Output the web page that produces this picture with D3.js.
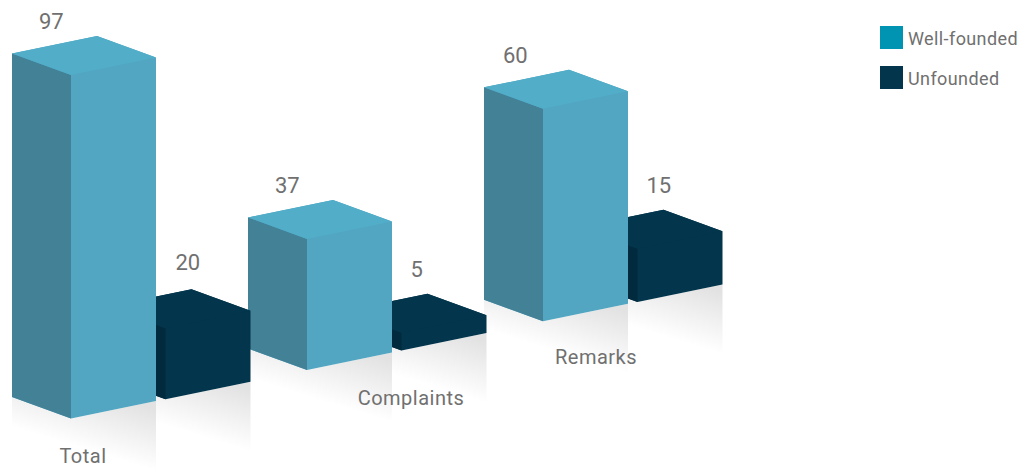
<!DOCTYPE html>
<html>
<head>
<meta charset="utf-8">
<script src="https://cdn.jsdelivr.net/npm/d3@7"></script>
<style>
  html, body { margin: 0; padding: 0; background: #fff; overflow: hidden; }
  text { font-family: Roboto, sans-serif; fill: #707070; }
</style>
</head>
<body>
<svg id="chart" width="1022" height="476"></svg>
<script>
const categories = ["Total", "Complaints", "Remarks"];
const seriesNames = ["Well-founded", "Unfounded"];
const wellFounded = [97, 37, 60];
const unfounded = [20, 5, 15];

const legendColors = ["#0093b2", "#03364d"];
const faceColors = [
  {top: "#51adc8", right: "#52a6c2", left: "#438197"},
  {top: "#03364d", right: "#03364d", left: "#012a3e"}
];

// box shape on screen, the two ground edges running out of the front corner
const leftEdge = {x: 59, y: 21.5};
const rightEdge = {x: 85, y: 17.5};
const shadowHeight = 70;

// labels sit by hand in the original, they don't follow the boxes exactly
const valueLabelNudge = [[0, 0], [0, 0], [-8, 0]];
const darkLabelNudge = [[1, -2], [0, 0], [0, 0]];
const catLabelPos = [[83, 463], [411, 405], [596, 364]];

const svg = d3.select("#chart");

const xGroup = d3.scaleBand().domain(categories).range([71, 779]);
const xSeries = d3.scaleBand().domain(seriesNames).range([0, 189]);
const groundY = d3.scaleLinear().domain([71, 637]).range([418.6, 302]);
const barH = d3.scaleLinear().domain([0, 97]).range([0, 343.6]);

const bars = [];
categories.forEach((c, i) => {
  bars.push({cat: c, i: i, s: 0, value: wellFounded[i]});
  bars.push({cat: c, i: i, s: 1, value: unfounded[i]});
});
// right to left, every box hides a bit of the one to its right
bars.reverse();

const defs = svg.append("defs");
const pts = arr => arr.map(p => p.join(",")).join(" ");

const shadowG = svg.append("g").attr("class", "shadows");
const barG = svg.append("g").attr("class", "bars");

function face(g, points, color) {
  g.append("polygon")
      .attr("points", pts(points))
      .attr("fill", color);
}

bars.forEach((d, n) => {
  const fx = xGroup(d.cat) + xSeries(seriesNames[d.s]);
  const fy = groundY(fx);
  const h = barH(d.value);
  const lx = fx - leftEdge.x, ly = fy - leftEdge.y;
  const rx = fx + rightEdge.x, ry = fy - rightEdge.y;
  const bx = lx + rightEdge.x, by = ly - rightEdge.y;
  const colors = faceColors[d.s];

  // floor reflection, darkest by the right edge and fading down to white
  const gid = "shadow" + n;
  const grad = defs.append("linearGradient").attr("id", gid)
      .attr("gradientUnits", "userSpaceOnUse")
      .attr("x1", rx - 26).attr("y1", ry)
      .attr("x2", rx - 46).attr("y2", ry + 65);
  grad.append("stop").attr("offset", 0).attr("stop-color", "#e2e2e2");
  grad.append("stop").attr("offset", 0.87).attr("stop-color", "#fff");
  shadowG.append("polygon")
      .attr("points", pts([[lx, ly], [fx, fy], [rx, ry], [rx, ry + shadowHeight],
                           [fx, fy + shadowHeight], [lx, ly + shadowHeight]]))
      .attr("fill", "url(#" + gid + ")");

  const g = barG.append("g");
  // silhouette first, so no light seam shows between the faces
  face(g, [[lx, ly], [fx, fy], [rx, ry], [rx, ry - h], [bx, by - h], [lx, ly - h]], colors.right);
  face(g, [[lx, ly], [fx, fy], [fx, fy - h], [lx, ly - h]], colors.left);
  face(g, [[lx, ly - h], [fx, fy - h], [rx, ry - h], [bx, by - h]], colors.top);

  // value label, placed from the back corner of the box
  const nudge = d.s === 0 ? valueLabelNudge[d.i] : darkLabelNudge[d.i];
  svg.append("text")
      .attr("x", bx + (d.s === 0 ? -58 : -17) + nudge[0])
      .attr("y", by - h + (d.s === 0 ? -7 : -17) + nudge[1])
      .attr("font-size", 22)
      .text(d.value);
});

svg.selectAll(".cat-label")
  .data(categories)
  .enter().append("text")
    .attr("class", "cat-label")
    .attr("x", (d, i) => catLabelPos[i][0])
    .attr("y", (d, i) => catLabelPos[i][1])
    .attr("text-anchor", "middle")
    .attr("font-size", 20)
    .attr("letter-spacing", 0.5)
    .text(d => d);

const legend = svg.selectAll(".legend-item")
  .data(seriesNames)
  .enter().append("g")
    .attr("class", "legend-item")
    .attr("transform", (d, i) => "translate(880," + (26 + i * 40) + ")");

legend.append("rect")
    .attr("width", 23)
    .attr("height", 23)
    .attr("fill", (d, i) => legendColors[i]);

legend.append("text")
    .attr("x", 28)
    .attr("y", 19)
    .attr("font-size", 18)
    .attr("letter-spacing", 0.4)
    .text(d => d);
</script>
</body>
</html>
